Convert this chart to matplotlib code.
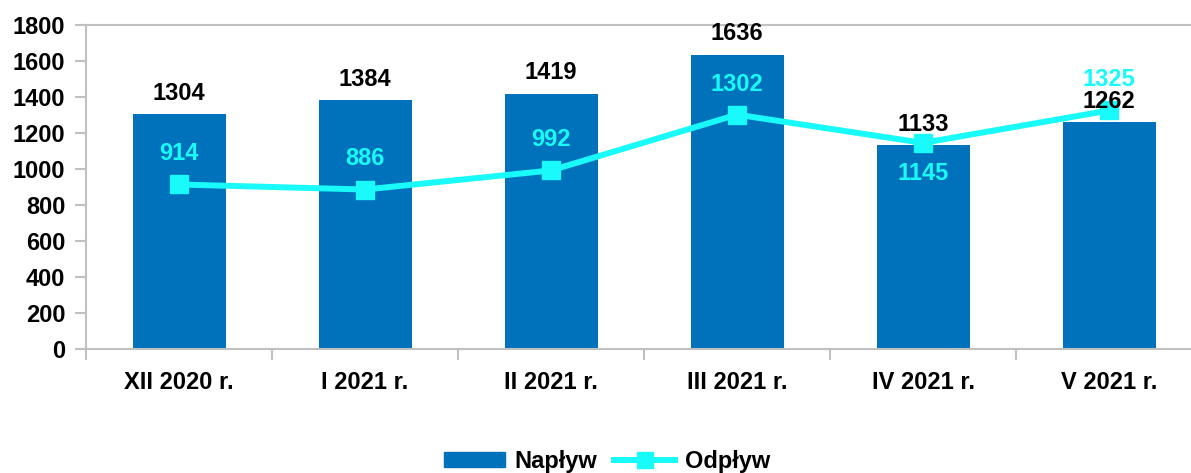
import matplotlib
matplotlib.use("Agg")
import matplotlib.pyplot as plt
from matplotlib.patches import Patch
from matplotlib.lines import Line2D

categories = ["XII 2020 r.", "I 2021 r.", "II 2021 r.", "III 2021 r.", "IV 2021 r.", "V 2021 r."]
naplyw = [1304, 1384, 1419, 1636, 1133, 1262]
odplyw = [914, 886, 992, 1302, 1145, 1325]
yticks = [0, 200, 400, 600, 800, 1000, 1200, 1400, 1600, 1800]

plt.rcParams['font.family'] = ['Liberation Sans', 'DejaVu Sans']
plt.rcParams['font.weight'] = 'bold'

BAR = '#0071BB'
LINE = '#19FAFA'
GRAY = '#C0C0C0'
FS = 17

fig = plt.figure(figsize=(11.91, 4.73), dpi=100)
ax = fig.add_axes([86/1191, 124/473, 1116/1191, 324/473])

x = list(range(len(categories)))
ax.bar(x, naplyw, width=0.5, color=BAR, zorder=2)
ax.plot(x, odplyw, color=LINE, lw=4.3, marker='s', markersize=13, zorder=3)

ax.set_xlim(-0.5, 5.5)
ax.set_ylim(0, 1800)
ax.set_yticks(yticks)
ax.set_yticklabels([str(v) for v in yticks], fontsize=FS, fontweight='bold')
ax.set_xticks(x)
ax.set_xticklabels(categories, fontsize=FS, fontweight='bold')
ax.tick_params(axis='x', length=0, pad=16)
ax.set_xticks([i - 0.5 for i in range(len(categories) + 1)], minor=True)
ax.tick_params(axis='x', which='minor', length=8, color=GRAY, width=1.5)
ax.tick_params(axis='y', length=8, color=GRAY, width=1.5, pad=7)

for s in ['left', 'bottom', 'top']:
    ax.spines[s].set_color(GRAY)
    ax.spines[s].set_linewidth(1.5)
ax.spines['right'].set_visible(False)

for i, v in enumerate(naplyw):
    ax.annotate(str(v), (i, v), xytext=(0, 15), textcoords='offset points',
                ha='center', va='center', fontsize=FS, fontweight='bold',
                color='black', zorder=5, annotation_clip=False)
for i, v in enumerate(odplyw):
    dy = -22 if i == 4 else 22
    ax.annotate(str(v), (i, v), xytext=(0, dy), textcoords='offset points',
                ha='center', va='center', fontsize=FS, fontweight='bold',
                color=LINE, zorder=5, annotation_clip=False)

handles = [Patch(facecolor=BAR, edgecolor=BAR),
           Line2D([0], [0], color=LINE, lw=4.3, marker='s', markersize=11)]
fig.legend(handles, ["Napływ", "Odpływ"], loc='center', bbox_to_anchor=(607/1191, 1 - 461/473),
           ncol=2, frameon=False, handlelength=2.6, handleheight=0.6,
           columnspacing=0.7, handletextpad=0.4, prop={'weight': 'bold', 'size': FS})

fig.savefig("out.png", dpi=100)
